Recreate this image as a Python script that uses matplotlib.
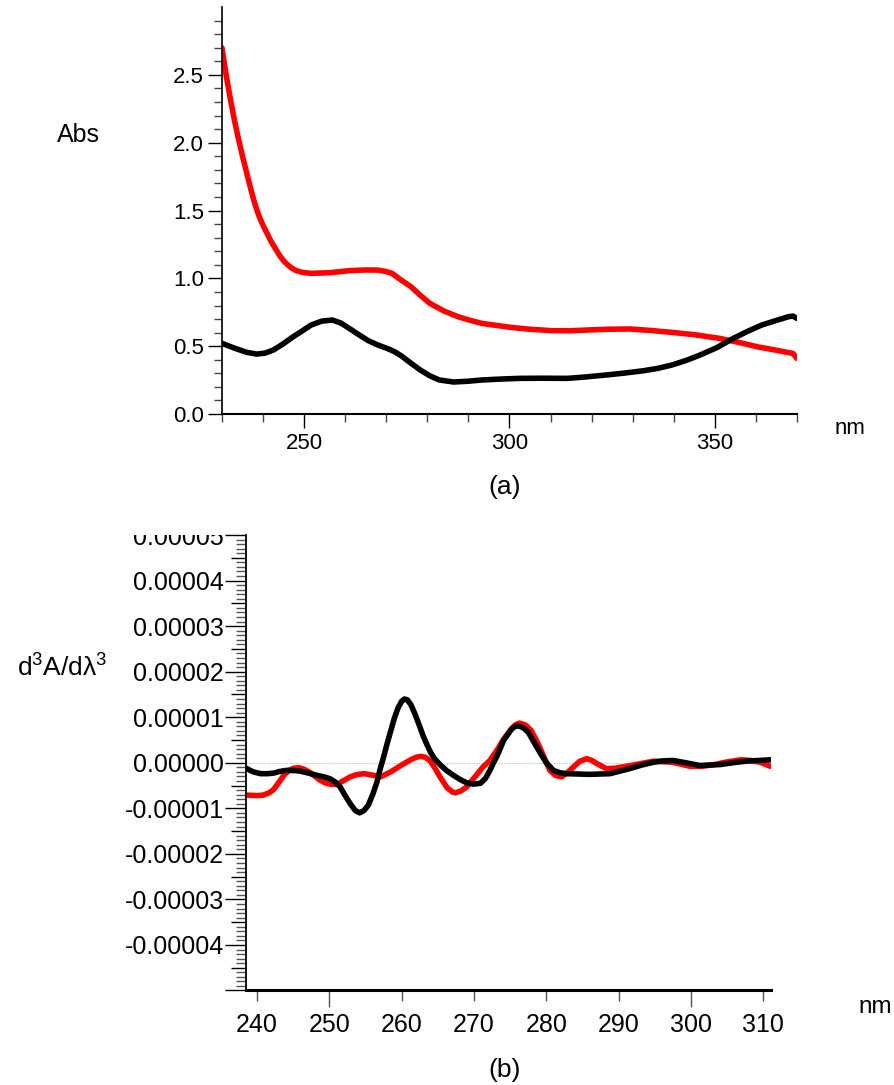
import matplotlib.pyplot as plt
from matplotlib.ticker import MultipleLocator, FixedLocator, FuncFormatter
from matplotlib.transforms import Bbox, TransformedBbox

plt.rcParams['font.family'] = ['Liberation Sans', 'DejaVu Sans']
plt.rcParams['mathtext.fontset'] = 'custom'
plt.rcParams['mathtext.rm'] = 'Liberation Sans'
plt.rcParams['mathtext.it'] = 'Liberation Sans'

# (a) absorbance spectra
nm_red_a = [230, 231, 232, 233, 234, 235, 236, 237, 238, 239, 240, 241, 242, 243, 244, 245,
            246, 247, 248, 249.5, 251.7, 256.3, 261, 265, 268, 270, 271.4, 273.5, 276, 278.3,
            280.6, 284, 287.5, 290.5, 293.3, 300.2, 305, 310.6, 315, 318.7, 324, 329.1, 334,
            339.5, 345, 351.1, 356, 360.3, 365, 369, 370]
abs_red = [2.70, 2.50, 2.33, 2.17, 2.03, 1.90, 1.78, 1.66, 1.55, 1.46, 1.39, 1.33, 1.27, 1.22,
           1.17, 1.13, 1.10, 1.075, 1.058, 1.045, 1.037, 1.042, 1.057, 1.062, 1.061, 1.05, 1.037,
           0.99, 0.939, 0.875, 0.816, 0.76, 0.717, 0.69, 0.668, 0.639, 0.625, 0.614, 0.614, 0.619,
           0.625, 0.627, 0.617, 0.602, 0.585, 0.558, 0.527, 0.496, 0.47, 0.447, 0.41]

nm_black_a = [230, 233.2, 236, 238.4, 240.5, 242.5, 244.8, 247.1, 249.5, 251.7, 254.3, 256.9,
              259, 261, 263.3, 265.6, 268, 270.2, 272, 273.7, 276, 278.3, 280.6, 282.9, 286.4,
              290, 293.3, 298, 302.5, 308, 314.1, 318, 323.3, 328, 332.6, 336, 339.5, 343, 346.4,
              350.5, 354.5, 358, 361.4, 365.5, 368, 369, 370]
abs_black = [0.521, 0.484, 0.455, 0.442, 0.449, 0.472, 0.515, 0.565, 0.612, 0.656, 0.685, 0.693,
             0.67, 0.631, 0.585, 0.541, 0.508, 0.484, 0.46, 0.428, 0.375, 0.324, 0.282, 0.251, 0.236,
             0.242, 0.251, 0.258, 0.263, 0.264, 0.263, 0.272, 0.287, 0.302, 0.319, 0.336, 0.361,
             0.395, 0.435, 0.49, 0.558, 0.61, 0.656, 0.695, 0.718, 0.722, 0.705]

# (b) third derivative spectra, values in units of 1e-5
nm_red_b = [238.5, 240.0, 240.9, 241.7, 242.3, 243.0, 243.7, 244.4, 245.1, 245.8, 246.5, 247.2,
            247.9, 248.7, 249.5, 250.3, 251.1, 252.0, 252.9, 253.8, 254.8, 255.9, 257.1, 258.5,
            259.9, 261.3, 262.0, 262.6, 263.3, 264.0, 264.7, 265.3, 266.3, 267.0, 267.4, 268.2,
            269.0, 270.3, 271.2, 272.2, 273.2, 274.1, 275.2, 275.8, 276.3, 277.1, 277.9, 278.5,
            279.1, 279.8, 280.5, 281.3, 282.1, 282.9, 283.7, 284.6, 285.6, 286.3, 286.9, 288.3,
            289.5, 291.0, 293.0, 294.8, 297.5, 299.9, 301.5, 303.2, 305.0, 306.9, 308.3, 309.6,
            311.0]
d3_red = [-0.71, -0.72, -0.71, -0.66, -0.59, -0.44, -0.28, -0.17, -0.12, -0.11, -0.14, -0.20,
          -0.28, -0.38, -0.445, -0.475, -0.474, -0.39, -0.31, -0.26, -0.24, -0.27, -0.31, -0.20,
          -0.06, 0.07, 0.12, 0.14, 0.12, 0.03, -0.14, -0.31, -0.55, -0.64, -0.66, -0.62,
          -0.53, -0.28, -0.10, 0.05, 0.28, 0.52, 0.75, 0.84, 0.87, 0.83, 0.71, 0.53,
          0.34, 0.08, -0.17, -0.28, -0.31, -0.22, -0.10, 0.03, 0.09, 0.05, -0.01, -0.13,
          -0.12, -0.08, -0.02, 0.035, 0.01, -0.08, -0.08, -0.04, 0.02, 0.065, 0.05, 0.01,
          -0.08]

nm_black_b = [238.5, 239.5, 240.5, 241.5, 242.3, 243.2, 244.1, 245.0, 246.0, 247.2, 248.3, 249.3,
              250.1, 250.8, 251.5, 252.2, 252.9, 253.6, 254.2, 254.8, 255.4, 256.0, 256.6, 257.0,
              257.5, 258.0, 258.5, 259.0, 259.5, 260.0, 260.4, 260.8, 261.3, 261.9, 262.5, 263.0,
              263.5, 264.0, 264.5, 265.3, 266.2, 267.2, 268.1, 269.0, 270.0, 270.9, 271.6, 272.2,
              272.7, 273.2, 274.1, 275.1, 275.6, 276.1, 276.8, 277.5, 278.3, 279.1, 280.0, 281.0,
              281.9, 282.8, 286.0, 288.8, 291.5, 293.2, 294.8, 296.0, 297.5, 299.3, 301.2, 304.0,
              305.8, 307.6, 311.0]
d3_black = [-0.12, -0.20, -0.24, -0.24, -0.227, -0.19, -0.168, -0.17, -0.183, -0.23, -0.277, -0.31,
            -0.35, -0.42, -0.53, -0.72, -0.90, -1.05, -1.10, -1.05, -0.93, -0.70, -0.42, -0.16,
            0.12, 0.42, 0.70, 0.98, 1.20, 1.35, 1.40, 1.38, 1.27, 1.05, 0.80, 0.58,
            0.40, 0.23, 0.10, -0.04, -0.17, -0.28, -0.37, -0.44, -0.47, -0.45, -0.34, -0.17,
            0.0, 0.15, 0.49, 0.72, 0.79, 0.81, 0.77, 0.67, 0.45, 0.23, 0.0, -0.17,
            -0.22, -0.24, -0.255, -0.24, -0.13, -0.05, 0.01, 0.04, 0.05, 0.0, -0.06, -0.04,
            0.0, 0.035, 0.065]

d3_red = [v * 1e-5 for v in d3_red]
d3_black = [v * 1e-5 for v in d3_black]

fig = plt.figure(figsize=(8.94, 10.85), dpi=100)
ax1 = fig.add_axes([0.2483, 0.6184, 0.6432, 0.3751])
ax2 = fig.add_axes([0.2752, 0.0871, 0.5868, 0.4198])

for ax in (ax1, ax2):
    ax.spines['top'].set_visible(False)
    ax.spines['right'].set_visible(False)

line_kw = dict(lw=4, solid_capstyle='round', solid_joinstyle='round')

#-------------------------------- panel (a) --------------------------------#
ax1.plot(nm_red_a, abs_red, color='#ff0000', **line_kw)
ax1.plot(nm_black_a, abs_black, color='black', **line_kw)
ax1.set_xlim(230, 370)
ax1.set_ylim(0, 3.0)
ax1.yaxis.set_major_locator(FixedLocator([0, 0.5, 1.0, 1.5, 2.0, 2.5]))
ax1.yaxis.set_minor_locator(FixedLocator([i / 10 for i in range(1, 30) if i % 5]))
ax1.yaxis.set_major_formatter(FuncFormatter(lambda v, p: f"{v:.1f}"))
ax1.xaxis.set_major_locator(MultipleLocator(50))
ax1.xaxis.set_minor_locator(MultipleLocator(10))
ax1.tick_params(which='major', length=10, width=1, labelsize=16, pad=3)
ax1.tick_params(which='minor', length=6, width=1, color='#444444')
ax1.tick_params(axis='x', which='major', pad=4)
ax1.spines['left'].set_linewidth(1.2)
ax1.spines['bottom'].set_linewidth(1.5)

fig.text(78 / 894, 1 - 135 / 1085, "Abs", fontsize=18, ha='center', va='center')
fig.text(835 / 894, 1 - 428 / 1085, "nm", fontsize=16, ha='left', va='center')
fig.text(505 / 894, 1 - 487 / 1085, "(a)", fontsize=19, ha='center', va='center')

#-------------------------------- panel (b) --------------------------------#
ax2.axhline(0, color='#c8c2b4', lw=0.9, ls=(0, (1, 1)), zorder=1)
ax2.plot(nm_red_b, d3_red, color='#ff0000', **line_kw)
ax2.plot(nm_black_b, d3_black, color='black', **line_kw)
ax2.set_xlim(238.5, 311)
ax2.set_ylim(-5e-5, 5e-5)

ax2.yaxis.set_major_locator(MultipleLocator(5e-6))
ax2.yaxis.set_minor_locator(MultipleLocator(1e-6))


def d3_label(v, p):
    n = round(v / 1e-6)
    if n % 10 or n == -50:
        return ""
    return f"{n / 1e6:.5f}" if n >= 0 else f"-{-n / 1e6:.5f}"


ax2.yaxis.set_major_formatter(FuncFormatter(d3_label))
ax2.xaxis.set_major_locator(MultipleLocator(10))
ax2.tick_params(axis='y', which='major', length=15, width=1, labelsize=18, pad=1)
ax2.tick_params(axis='y', which='minor', length=7.5, width=1, color='#555555')
ax2.tick_params(axis='x', which='major', length=12, width=1, labelsize=18, pad=4, color='#555555')
ax2.spines['left'].set_linewidth(1.3)
ax2.spines['bottom'].set_linewidth(2.2)

# shorter ticks for the unlabelled halves / unlabelled x majors
yt = ax2.yaxis.get_major_locator()()
for loc, tick in zip(yt, ax2.yaxis.get_major_ticks(len(yt))):
    if round(loc / 1e-6) % 10:
        tick.tick1line.set_markersize(11)
    if abs(loc - 5e-5) < 1e-9:
        # top label is cut off at the top of the axis
        clip = TransformedBbox(Bbox([[0, 0], [1, 0.5069]]), fig.transFigure)
        tick.label1.set_clip_box(clip)
        tick.label1.set_clip_on(True)
xt = ax2.xaxis.get_major_locator()()
for loc, tick in zip(xt, ax2.xaxis.get_major_ticks(len(xt))):
    if round(loc) % 50:
        tick.tick1line.set_markersize(8)
    else:
        tick.tick1line.set_color('black')

fig.text(62 / 894, 1 - 668 / 1085, r"d$^{\mathrm{3}}$A/dλ$^{\mathrm{3}}$", fontsize=19,
         ha='center', va='center')
fig.text(858 / 894, 1 - 1007 / 1085, "nm", fontsize=17.5, ha='left', va='center')
fig.text(505 / 894, 1 - 1070 / 1085, "(b)", fontsize=19, ha='center', va='center')

fig.savefig("out.png", dpi=100)
